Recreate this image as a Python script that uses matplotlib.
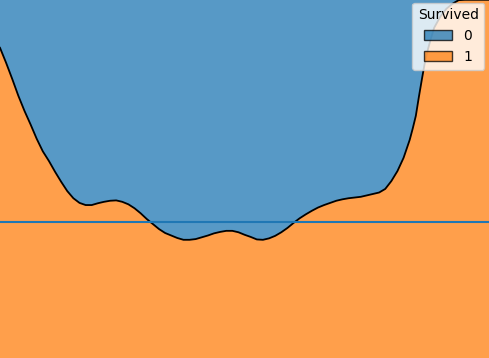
import matplotlib.pyplot as plt
from matplotlib.patches import Patch

age = [0, 1, 2, 3, 4, 5, 6, 7, 8, 9, 10, 11, 12, 13, 14, 15, 16, 17, 18, 19,
       20, 21, 22, 23, 24, 25, 26, 27, 28, 29, 30, 31, 32, 33, 34, 35, 36,
       37, 38, 39, 40, 41, 42, 43, 44, 45, 46, 47, 48, 49, 50, 51, 52, 53,
       54, 55, 56, 57, 58, 59, 60, 61, 62, 63, 64, 65, 66, 67, 67.5, 68,
       68.5, 69, 69.5, 70, 70.5, 71, 72, 73, 74, 75, 76, 80]
survived_share = [0.866, 0.824, 0.779, 0.732, 0.690, 0.652, 0.612, 0.577,
                  0.550, 0.520, 0.492, 0.466, 0.446, 0.433, 0.427, 0.427,
                  0.432, 0.436, 0.439, 0.440, 0.436, 0.429, 0.418, 0.404,
                  0.388, 0.374, 0.360, 0.349, 0.342, 0.335, 0.330, 0.330,
                  0.332, 0.337, 0.342, 0.348, 0.352, 0.355, 0.355, 0.351,
                  0.344, 0.338, 0.331, 0.330, 0.334, 0.341, 0.351, 0.363,
                  0.377, 0.390, 0.401, 0.411, 0.420, 0.427, 0.433, 0.439,
                  0.443, 0.446, 0.448, 0.450, 0.454, 0.458, 0.462, 0.472,
                  0.494, 0.522, 0.559, 0.609, 0.641, 0.676, 0.729, 0.779,
                  0.827, 0.863, 0.894, 0.922, 0.953, 0.975, 0.989, 0.999,
                  1.0, 1.0]
overall_rate = 0.379
levels = ["0", "1"]
colors = ["#1f77b4", "#ff7f0e"]

fig = plt.figure(figsize=(4.892, 3.582), dpi=100)
ax = fig.add_axes([0, 0, 1, 1])

# survived on the bottom, not survived stacked on top
ax.fill_between(age, 0, survived_share, color=colors[1], alpha=0.75, lw=0)
ax.fill_between(age, survived_share, 1, color=colors[0], alpha=0.75, lw=0)
ax.plot(age, survived_share, color="black", lw=1.3)
ax.axhline(overall_rate, color=colors[0], lw=1.5)

ax.set_xlim(age[0], age[-1])
ax.set_ylim(0, 1)
ax.axis("off")

handles = [Patch(facecolor=c, alpha=0.75, edgecolor="black") for c in colors]
ax.legend(handles, levels, title="Survived", loc="upper right",
          bbox_to_anchor=(0.99, 0.992), borderaxespad=0)

fig.savefig("out.png", dpi=100)
